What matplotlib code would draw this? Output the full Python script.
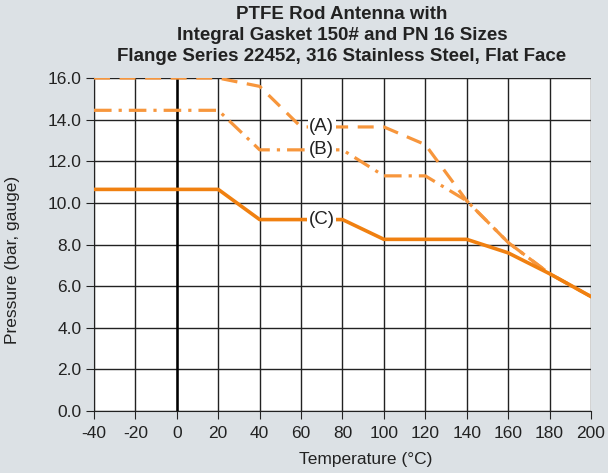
import matplotlib.pyplot as plt
from matplotlib.ticker import FormatStrFormatter

plt.rcParams['font.family'] = ['Liberation Sans', 'DejaVu Sans']
plt.rcParams['axes.unicode_minus'] = False

temp = [-40, 20, 40, 60, 80, 100, 120, 140, 160, 180, 200]
press_a = [16.0, 16.0, 15.6, 13.65, 13.65, 13.65, 12.8, 10.1, 8.1, 6.6, 5.5]
press_b = [14.45, 14.45, 12.55, 12.55, 12.55, 11.3, 11.3, 10.1, 8.1, 6.6, 5.5]
press_c = [10.65, 10.65, 9.2, 9.2, 9.2, 8.25, 8.25, 8.25, 7.6, 6.6, 5.5]
labels = ['(A)', '(B)', '(C)']

bg = '#dce1e5'
light = '#f7963c'
dark = '#f08010'
txt = '#222222'

fig = plt.figure(figsize=(6.08, 4.73), dpi=100, facecolor=bg)
ax = fig.add_axes([0.1546, 0.131, 0.8174, 0.704])
ax.set_facecolor('white')

ax.plot(temp, press_a, color=light, lw=2.3, linestyle=(0, (5, 3)), zorder=3)
ax.plot(temp, press_b, color=light, lw=2.3, linestyle=(0, (5.5, 2.2, 1, 2.2)), zorder=3)
ax.plot(temp, press_c, color=dark, lw=2.6, zorder=3)

for lab, y in zip(labels, [press_a[3], press_b[3], press_c[3]]):
    ax.text(70, y, lab, ha='center', va='center', fontsize=13.5, color=txt,
            bbox=dict(facecolor='white', edgecolor='none', pad=1.0), zorder=4)

ax.set_xlim(-40, 200)
ax.set_ylim(0, 16)
ax.set_xticks(range(-40, 201, 20))
ax.set_yticks([i * 2.0 for i in range(9)])
ax.yaxis.set_major_formatter(FormatStrFormatter('%.1f'))
ax.grid(True, color=txt, lw=1.0)
ax.set_axisbelow(True)
ax.axvline(0, color='black', lw=1.8, zorder=2)
for s in ['top', 'right']:
    ax.spines[s].set_visible(False)
ax.spines['left'].set_color(txt)
ax.spines['bottom'].set_color(txt)
ax.tick_params(labelsize=12.5, length=6, color=txt, labelcolor=txt)
ax.tick_params(axis='x', pad=5)
ax.tick_params(axis='y', pad=3)

ax.set_xlabel('Temperature (°C)', fontsize=12.5, color=txt)
ax.xaxis.set_label_coords(0.547, -0.123)
ax.set_ylabel('Pressure (bar, gauge)', fontsize=12.5, color=txt)
ax.yaxis.set_label_coords(-0.149, 0.453)
fig.text(0.5625, 0.925, 'PTFE Rod Antenna with\nIntegral Gasket 150# and PN 16 Sizes\n'
         'Flange Series 22452, 316 Stainless Steel, Flat Face',
         ha='center', va='center', fontsize=13.5, fontweight='bold',
         color=txt, linespacing=1.3)

fig.savefig('out.png', dpi=100, facecolor=bg)
